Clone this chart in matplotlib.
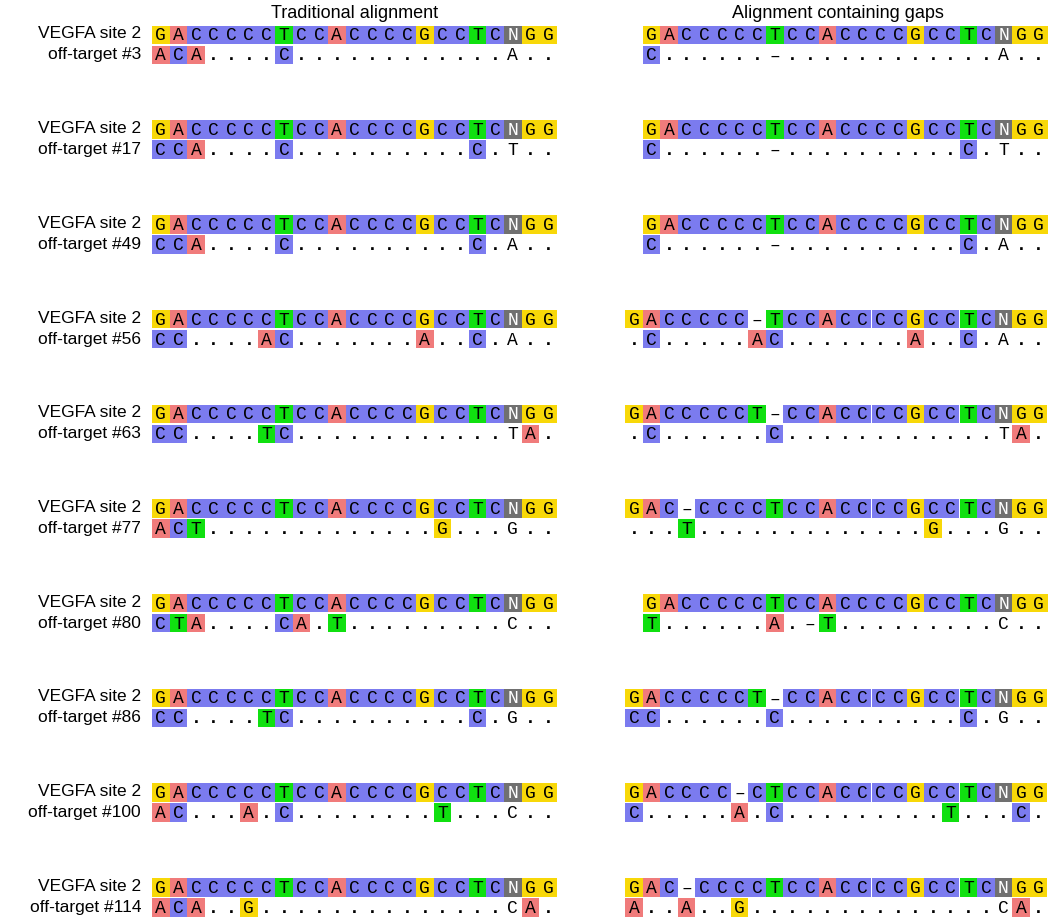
import matplotlib.pyplot as plt
from matplotlib.patches import Rectangle

# off-target ids
targets = ['3', '17', '49', '56', '63', '77', '80', '86', '100', '114']

# traditional alignment ('.' = match)
ref_plain = 'GACCCCCTCCACCCCGCCTCNGG'
trad_off = [
    'ACA....C............A..',
    'CCA....C..........C.T..',
    'CCA....C..........C.A..',
    'CC....AC.......A..C.A..',
    'CC....TC............TA.',
    'ACT.............G...G..',
    'CTA....CA.T.........C..',
    'CC....TC..........C.G..',
    'AC...A.C........T...C..',
    'ACA..G..............CA.',
]

# alignment containing gaps
gap_ref = [
    'GACCCCCTCCACCCCGCCTCNGG',
    'GACCCCCTCCACCCCGCCTCNGG',
    'GACCCCCTCCACCCCGCCTCNGG',
    'GACCCCC-TCCACCCCGCCTCNGG',
    'GACCCCCT-CCACCCCGCCTCNGG',
    'GAC-CCCCTCCACCCCGCCTCNGG',
    'GACCCCCTCCACCCCGCCTCNGG',
    'GACCCCCT-CCACCCCGCCTCNGG',
    'GACCCC-CTCCACCCCGCCTCNGG',
    'GAC-CCCCTCCACCCCGCCTCNGG',
]
gap_off = [
    'C......-............A..',
    'C......-..........C.T..',
    'C......-..........C.A..',
    '.C.....AC.......A..C.A..',
    '.C......C............TA.',
    '...T.............G...G..',
    'T......A.-T.........C..',
    'CC......C..........C.G..',
    'C.....A.C.........T...C..',
    'A..A..G..............CA.',
]

colors = {'A': '#f07b7b', 'C': '#7b7bef', 'G': '#f8d808', 'T': '#10e010', 'N': '#707070'}

W, H = 1050, 922
fig = plt.figure(figsize=(10.5, 9.22), dpi=100)
ax = fig.add_axes([0, 0, 1, 1])
ax.set_xlim(0, W)
ax.set_ylim(H, 0)
ax.axis('off')

cw, ch = 17.6, 18.5
mono = 'Liberation Mono'


def draw_seq(x0, y, seq, nidx, color_all):
    for i, c in enumerate(seq):
        x = x0 + i * cw
        if c in colors and (color_all or i != nidx):
            ax.add_patch(Rectangle((x, y - ch / 2), cw, ch, color=colors[c], lw=0))
        tc = 'white' if (c == 'N' and color_all) else 'black'
        txt = '\u2013' if c == '-' else c
        ax.text(x + cw / 2, y + 1, txt, fontsize=13, family=mono,
                fontweight='bold' if c == '.' else 'normal',
                ha='center', va='center', color=tc)


ax.text(355, 14, 'Traditional alignment', fontsize=13, family='Liberation Sans', ha='center', va='center')
ax.text(838, 14, 'Alignment containing gaps', fontsize=13, family='Liberation Sans', ha='center', va='center')

right_end = 1047.5
for k, t in enumerate(targets):
    y_ref = 35 + k * 94.7
    y_off = y_ref + 20
    ax.text(141, y_ref - 1, 'VEGFA site 2', fontsize=12.5, family='Liberation Sans', ha='right', va='center')
    ax.text(141, y_off, 'off-target #' + t, fontsize=12.5, family='Liberation Sans', ha='right', va='center')

    draw_seq(152, y_ref, ref_plain, 20, True)
    draw_seq(152, y_off, trad_off[k], 20, False)

    r = gap_ref[k]
    x0 = right_end - len(r) * cw
    n = r.index('N')
    draw_seq(x0, y_ref, r, n, True)
    draw_seq(x0, y_off, gap_off[k], n, False)

fig.savefig('out.png', dpi=100)
